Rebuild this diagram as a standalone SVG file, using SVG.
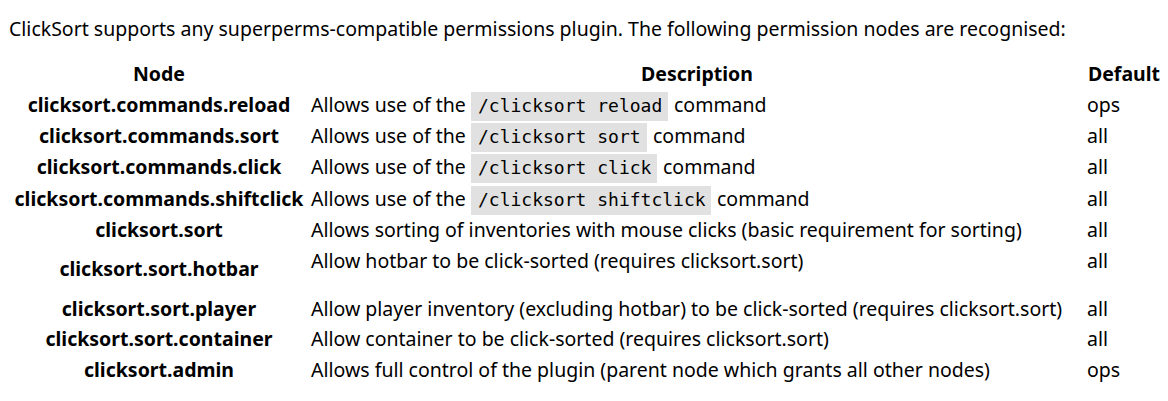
<svg xmlns="http://www.w3.org/2000/svg" width="1168" height="401" viewBox="0 0 1168 401">
<style>
text{font-family:"Noto Sans","Open Sans","DejaVu Sans",sans-serif;font-size:19.5px;fill:#000}
.n{font-weight:bold;text-anchor:middle}
.h{font-weight:bold;text-anchor:middle}
.c{font-family:"DejaVu Sans Mono","Liberation Mono",monospace;font-size:18px}
.bg{fill:#e1e1e1}
</style>
<rect width="1168" height="401" fill="#fff"/>
<text id="intro" x="9" y="36">ClickSort supports any superperms-compatible permissions plugin. The following permission nodes are recognised:</text>
<g id="header">
<text class="h" x="159" y="81">Node</text>
<text class="h" x="697" y="81">Description</text>
<text class="h" x="1124" y="81">Default</text>
</g>
<g id="row-reload">
<text class="n" x="159" y="112">clicksort.commands.reload</text>
<text x="311" y="112">Allows use of the</text>
<rect class="bg" x="471" y="92" width="197" height="29"/>
<text class="c" x="478" y="112">/clicksort reload</text>
<text x="674" y="112">command</text>
<text x="1087" y="112">ops</text>
</g>
<g id="row-sort">
<text class="n" x="159" y="143">clicksort.commands.sort</text>
<text x="311" y="143">Allows use of the</text>
<rect class="bg" x="471" y="123" width="176" height="29"/>
<text class="c" x="478" y="143">/clicksort sort</text>
<text x="653" y="143">command</text>
<text x="1087" y="143">all</text>
</g>
<g id="row-click">
<text class="n" x="159" y="174">clicksort.commands.click</text>
<text x="311" y="174">Allows use of the</text>
<rect class="bg" x="471" y="154" width="186" height="29"/>
<text class="c" x="478" y="174">/clicksort click</text>
<text x="663" y="174">command</text>
<text x="1087" y="174">all</text>
</g>
<g id="row-shiftclick">
<text class="n" x="159" y="206">clicksort.commands.shiftclick</text>
<text x="311" y="206">Allows use of the</text>
<rect class="bg" x="471" y="186" width="240" height="29"/>
<text class="c" x="478" y="206">/clicksort shiftclick</text>
<text x="717" y="206">command</text>
<text x="1087" y="206">all</text>
</g>
<g id="row-sort2">
<text class="n" x="159" y="237">clicksort.sort</text>
<text x="311" y="237">Allows sorting of inventories with mouse clicks (basic requirement for sorting)</text>
<text x="1087" y="237">all</text>
</g>
<g id="row-hotbar">
<text class="n" x="159" y="276">clicksort.sort.hotbar</text>
<text x="311" y="268">Allow hotbar to be click-sorted (requires clicksort.sort)</text>
<text x="1087" y="268">all</text>
</g>
<g id="row-player">
<text class="n" x="159" y="316">clicksort.sort.player</text>
<text x="311" y="316">Allow player inventory (excluding hotbar) to be click-sorted (requires clicksort.sort)</text>
<text x="1087" y="316">all</text>
</g>
<g id="row-container">
<text class="n" x="159" y="346">clicksort.sort.container</text>
<text x="311" y="346">Allow container to be click-sorted (requires clicksort.sort)</text>
<text x="1087" y="346">all</text>
</g>
<g id="row-admin">
<text class="n" x="159" y="377">clicksort.admin</text>
<text x="311" y="377">Allows full control of the plugin (parent node which grants all other nodes)</text>
<text x="1087" y="377">ops</text>
</g>
</svg>
